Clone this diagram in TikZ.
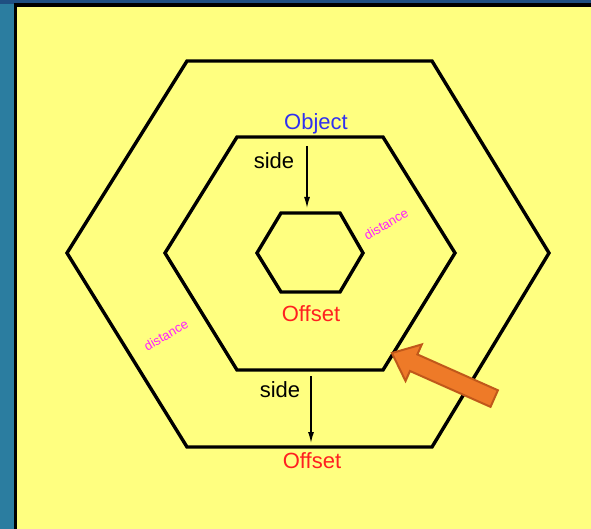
\documentclass[tikz,border=0pt]{standalone}
\usepackage{fontspec}
\setmainfont{Liberation Sans}
\usetikzlibrary{arrows.meta,shapes.arrows}
\definecolor{bgyellow}{HTML}{FFFF80}
\definecolor{sideblue}{HTML}{2B7DA0}
\definecolor{topblue}{HTML}{1F4F82}
\definecolor{objblue}{HTML}{3030F0}
\definecolor{offred}{HTML}{FF2020}
\definecolor{distmag}{HTML}{FF20FF}
\definecolor{arrfill}{HTML}{EE7A28}
\definecolor{arrdraw}{HTML}{C0581A}
\tikzset{
  hexline/.style={draw=black,line width=3.4pt,line join=miter},
  sidearrow/.style={draw=black,line width=1.3pt,-{Latex[length=11pt,width=6pt]}},
  lbl/.style={font=\fontsize{22}{24}\selectfont,inner sep=0pt},
  dist/.style={font=\fontsize{13}{14}\selectfont,text=distmag,inner sep=0pt,rotate=30},
}
\begin{document}
\begin{tikzpicture}[x=1pt,y=-1pt]
\useasboundingbox (0,0) rectangle (591,529);
\fill[sideblue] (0,0) rectangle (591,529);
\fill[topblue] (0,0) rectangle (591,4);
\fill[black] (14,3) rectangle (591,529);
\fill[bgyellow] (17,7) rectangle (591,529);
% hexagons
\draw[hexline] (187,61) -- (432,61) -- (549,253) -- (432,447) -- (187,447) -- (67,253) -- cycle;
\draw[hexline] (237,137) -- (383,137) -- (455,253) -- (383,370) -- (237,370) -- (165,253) -- cycle;
\draw[hexline] (281,213) -- (340,213) -- (363,253) -- (340,292) -- (281,292) -- (257,253) -- cycle;
% labels
\node[lbl,text=objblue] (obj) at (316,124) {Object};
\node[lbl] (side1) at (274,161) {side};
\node[lbl,text=offred] (off1) at (311,314) {Offset};
\node[lbl] (side2) at (280,390) {side};
\node[lbl,text=offred] (off2) at (312,461) {Offset};
\node[dist] (dist1) at (386,224) {distance};
\node[dist] (dist2) at (166,335) {distance};
% side arrows
\coordinate (a1s) at (307,146);
\coordinate (a1e) at (307,208);
\coordinate (a2s) at (311,376);
\coordinate (a2e) at (311,443);
\draw[sidearrow] (a1s) -- (a1e);
\draw[sidearrow] (a2s) -- (a2e);
% orange block arrow
\node[single arrow,fill=arrfill,draw=arrdraw,line width=2pt,minimum height=112pt,minimum width=40pt,single arrow head extend=6pt,single arrow tip angle=80,inner sep=4pt,rotate=156] (big) at (448,378) {};
\end{tikzpicture}
\end{document}
